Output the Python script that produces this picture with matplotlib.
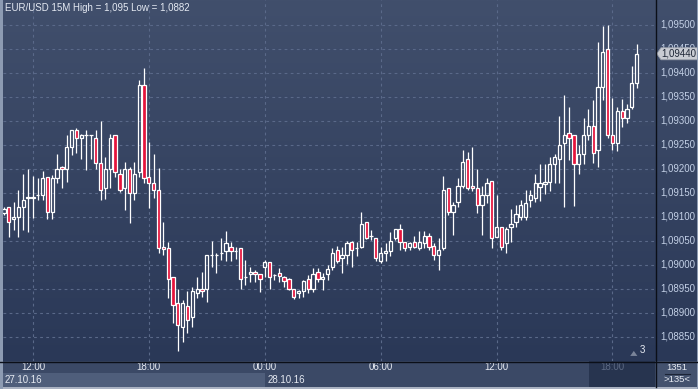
import matplotlib
matplotlib.use("Agg")
import matplotlib.pyplot as plt
import numpy as np
from matplotlib.patches import Rectangle, Polygon
from matplotlib.colors import LinearSegmentedColormap
from matplotlib.transforms import blended_transform_factory as blend

plt.rcParams['font.family'] = ['Liberation Sans', 'DejaVu Sans']

# ---------------- data (EUR/USD, 15-minute candles, from 27.10.16 10:30) ----------------
opens = [1.09108, 1.09121, 1.09096, 1.09100, 1.09121, 1.09140, 1.09140, 1.09146, 1.09146, 1.09183,
         1.09110, 1.09181, 1.09204, 1.09200, 1.09246, 1.09281, 1.09265, 1.09271, 1.09271, 1.09265,
         1.09213, 1.09160, 1.09200, 1.09271, 1.09190, 1.09160, 1.09200, 1.09150, 1.09194, 1.09375,
         1.09183, 1.09171, 1.09156, 1.09038, 1.09035, 1.08975, 1.08921, 1.08871, 1.08915, 1.08892,
         1.08942, 1.08950, 1.08950, 1.09021, 1.09021, 1.09025, 1.09029, 1.09038, 1.09029, 1.09035,
         1.08975, 1.08981, 1.08985, 1.08981, 1.08996, 1.09006, 1.08979, 1.08983, 1.08975, 1.08971,
         1.08950, 1.08942, 1.08946, 1.08971, 1.08950, 1.08985, 1.08971, 1.08981, 1.08996, 1.09031,
         1.09015, 1.09021, 1.09048, 1.09035, 1.09038, 1.09090, 1.09060, 1.09056, 1.09008, 1.09025,
         1.09029, 1.09056, 1.09075, 1.09048, 1.09038, 1.09048, 1.09035, 1.09046, 1.09060, 1.09040,
         1.09021, 1.09035, 1.09160, 1.09110, 1.09131, 1.09165, 1.09221, 1.09165, 1.09160, 1.09125,
         1.09146, 1.09175, 1.09058, 1.09079, 1.09046, 1.09079, 1.09090, 1.09100, 1.09100, 1.09135,
         1.09140, 1.09163, 1.09169, 1.09173, 1.09210, 1.09221, 1.09254, 1.09275, 1.09271, 1.09210,
         1.09231, 1.09271, 1.09290, 1.09240, 1.09371, 1.09450, 1.09271, 1.09254, 1.09321, 1.09306,
         1.09329, 1.09379]
highs = [1.09121, 1.09121, 1.09131, 1.09156, 1.09190, 1.09200, 1.09185, 1.09181, 1.09196, 1.09183,
         1.09188, 1.09231, 1.09206, 1.09271, 1.09281, 1.09285, 1.09273, 1.09281, 1.09271, 1.09281,
         1.09300, 1.09225, 1.09273, 1.09271, 1.09200, 1.09215, 1.09204, 1.09215, 1.09385, 1.09410,
         1.09256, 1.09231, 1.09202, 1.09090, 1.09048, 1.08975, 1.08950, 1.08927, 1.08946, 1.08954,
         1.08975, 1.08985, 1.09021, 1.09050, 1.09025, 1.09056, 1.09071, 1.09048, 1.09038, 1.09035,
         1.09010, 1.08996, 1.08990, 1.08981, 1.09010, 1.09006, 1.08981, 1.08994, 1.08977, 1.08973,
         1.08950, 1.08948, 1.08969, 1.08979, 1.08994, 1.08994, 1.08983, 1.09000, 1.09035, 1.09040,
         1.09038, 1.09050, 1.09050, 1.09048, 1.09110, 1.09090, 1.09073, 1.09056, 1.09038, 1.09046,
         1.09069, 1.09075, 1.09085, 1.09048, 1.09048, 1.09060, 1.09071, 1.09071, 1.09067, 1.09046,
         1.09056, 1.09185, 1.09160, 1.09131, 1.09181, 1.09240, 1.09235, 1.09246, 1.09200, 1.09165,
         1.09181, 1.09175, 1.09146, 1.09079, 1.09079, 1.09117, 1.09125, 1.09135, 1.09156, 1.09156,
         1.09190, 1.09210, 1.09210, 1.09225, 1.09231, 1.09310, 1.09354, 1.09329, 1.09271, 1.09250,
         1.09306, 1.09325, 1.09344, 1.09465, 1.09498, 1.09500, 1.09348, 1.09329, 1.09346, 1.09335,
         1.09415, 1.09460]
lows = [1.09104, 1.09058, 1.09073, 1.09058, 1.09073, 1.09069, 1.09098, 1.09135, 1.09135, 1.09096,
        1.09096, 1.09171, 1.09160, 1.09173, 1.09229, 1.09233, 1.09221, 1.09198, 1.09221, 1.09200,
        1.09135, 1.09138, 1.09160, 1.09183, 1.09152, 1.09115, 1.09088, 1.09135, 1.09183, 1.09171,
        1.09119, 1.09140, 1.09025, 1.09021, 1.08931, 1.08879, 1.08820, 1.08840, 1.08858, 1.08871,
        1.08931, 1.08933, 1.08923, 1.08996, 1.08983, 1.09010, 1.09008, 1.09008, 1.09013, 1.08950,
        1.08958, 1.08965, 1.08965, 1.08944, 1.08975, 1.08950, 1.08969, 1.08965, 1.08954, 1.08948,
        1.08929, 1.08931, 1.08933, 1.08942, 1.08944, 1.08965, 1.08948, 1.08969, 1.08990, 1.09004,
        1.08983, 1.09002, 1.08996, 1.09019, 1.09035, 1.09054, 1.09052, 1.09008, 1.09004, 1.09008,
        1.09019, 1.09052, 1.09031, 1.09029, 1.09031, 1.09035, 1.09031, 1.09035, 1.09031, 1.09010,
        1.08990, 1.09031, 1.09104, 1.09063, 1.09121, 1.09160, 1.09156, 1.09154, 1.09108, 1.09063,
        1.09129, 1.09035, 1.09058, 1.09031, 1.09025, 1.09048, 1.09079, 1.09094, 1.09094, 1.09121,
        1.09131, 1.09133, 1.09148, 1.09154, 1.09171, 1.09171, 1.09121, 1.09219, 1.09123, 1.09190,
        1.09210, 1.09260, 1.09213, 1.09204, 1.09344, 1.09265, 1.09240, 1.09238, 1.09288, 1.09296,
        1.09325, 1.09369]
closes = [1.09117, 1.09090, 1.09100, 1.09121, 1.09135, 1.09141, 1.09141, 1.09146, 1.09181, 1.09110,
          1.09181, 1.09200, 1.09200, 1.09246, 1.09281, 1.09265, 1.09271, 1.09271, 1.09271, 1.09213,
          1.09156, 1.09200, 1.09265, 1.09194, 1.09156, 1.09200, 1.09150, 1.09190, 1.09375, 1.09181,
          1.09171, 1.09156, 1.09035, 1.09033, 1.08971, 1.08917, 1.08875, 1.08921, 1.08885, 1.08946,
          1.08950, 1.08946, 1.09021, 1.09021, 1.09021, 1.09025, 1.09046, 1.09029, 1.09029, 1.08971,
          1.08975, 1.08985, 1.08981, 1.08971, 1.09006, 1.08975, 1.08979, 1.08977, 1.08967, 1.08950,
          1.08933, 1.08946, 1.08967, 1.08950, 1.08981, 1.08971, 1.08975, 1.08992, 1.09025, 1.09008,
          1.09021, 1.09046, 1.09031, 1.09035, 1.09085, 1.09056, 1.09060, 1.09015, 1.09025, 1.09029,
          1.09050, 1.09075, 1.09048, 1.09035, 1.09046, 1.09038, 1.09048, 1.09060, 1.09038, 1.09021,
          1.09031, 1.09156, 1.09110, 1.09125, 1.09165, 1.09215, 1.09160, 1.09160, 1.09125, 1.09146,
          1.09171, 1.09056, 1.09079, 1.09038, 1.09075, 1.09085, 1.09106, 1.09125, 1.09129, 1.09146,
          1.09171, 1.09171, 1.09173, 1.09210, 1.09225, 1.09250, 1.09271, 1.09265, 1.09210, 1.09231,
          1.09271, 1.09290, 1.09233, 1.09371, 1.09444, 1.09271, 1.09254, 1.09321, 1.09306, 1.09325,
          1.09379, 1.09440]

price_ticks = [1.09500, 1.09450, 1.09400, 1.09350, 1.09300, 1.09250, 1.09200,
               1.09150, 1.09100, 1.09050, 1.09000, 1.08950, 1.08900, 1.08850]
start_hour = 10.5                       # first candle: 27.10.16 10:30
time_label_hours = [12, 18, 24, 30, 36, 42]
time_labels = ["12:00", "18:00", "00:00", "06:00", "12:00", "18:00"]
date_labels = ["27.10.16", "28.10.16"]
date_start_hours = [None, 24]
title = "EUR/USD 15M High = 1,095 Low = 1,0882"
last_price = 1.09440
bar_count_text = ["1351", ">135<"]

# ---------------- layout ----------------
W, H = 698, 389
fig = plt.figure(figsize=(W / 100, H / 100), dpi=100)
fig.patch.set_facecolor('#33415e')

def pax(x0, y0, x1, y1):
    a = fig.add_axes([x0 / W, 1 - y1 / H, (x1 - x0) / W, (y1 - y0) / H])
    a.set_axis_off()
    return a

grad_cmap = LinearSegmentedColormap.from_list('bg', ['#2a3857', '#414f6c'])
grad = np.linspace(0, 1, 256).reshape(-1, 1)

YLIM = (1.08800, 1.09552)
XLIM = (-0.2, 134.8)
idx = lambda h: (h - start_hour) * 4
FS = 7.0

# main chart
ax = pax(3, 0, 655, 361)
ax.set_xlim(*XLIM)
ax.set_ylim(*YLIM)
ax.imshow(grad, extent=[XLIM[0], XLIM[1], YLIM[0], YLIM[1]], aspect='auto',
          cmap=grad_cmap, origin='lower', zorder=0)
grid_kw = dict(color='#5a6989', lw=0.8, ls=(0, (2.5, 3)), zorder=1)
for p in price_ticks:
    ax.axhline(p, **grid_kw)
for h in time_label_hours:
    ax.axvline(idx(h), **grid_kw)

red = '#e5143c'
bw = 0.68
for i, (o, hi, lo, c) in enumerate(zip(opens, highs, lows, closes)):
    top, bot = max(o, c), min(o, c)
    ax.vlines(i, top, hi, color='white', lw=0.9, zorder=3)
    ax.vlines(i, lo, bot, color='white', lw=0.9, zorder=3)
    fc = red if c < o else 'none'
    ax.add_patch(Rectangle((i - bw / 2, bot), bw, top - bot, facecolor=fc,
                           edgecolor='white', lw=0.9, zorder=4))

ax.text(0.0025, 0.978, title, transform=ax.transAxes, fontsize=FS,
        color='#e4e9f2', va='center', ha='left', zorder=6)
ax.text(0.985, 0.017, "3", transform=ax.transAxes, fontsize=FS,
        color='#e8ecf4', va='bottom', ha='right', zorder=6)
ax.add_patch(Polygon([[0.962, 0.014], [0.973, 0.014], [0.9675, 0.028]], closed=True,
                     transform=ax.transAxes, facecolor='#7a8499', edgecolor='none', zorder=6))

# right price axis
axr = pax(655, 0, 698, 361)
axr.set_xlim(0, 1)
axr.set_ylim(*YLIM)
axr.imshow(grad, extent=[0, 1, YLIM[0], YLIM[1]], aspect='auto', cmap=grad_cmap,
           origin='lower', zorder=0)
for p in price_ticks:
    axr.text(0.13, p, f"{p:.5f}".replace('.', ','), fontsize=FS, color='#c3d0e6',
             va='center', ha='left', zorder=2)
# current price tag (partly covers the 1,09450 label, as in the original)
dy = (YLIM[1] - YLIM[0]) / 361 * 6
tag = Polygon([[0.04, last_price], [0.14, last_price + dy], [1.0, last_price + dy],
               [1.0, last_price - dy], [0.14, last_price - dy]], closed=True,
              facecolor='#c9ccd3', edgecolor='#9aa0ab', lw=0.6, zorder=3)
axr.add_patch(tag)
axr.text(0.15, last_price, f"{last_price:.5f}".replace('.', ','), fontsize=FS,
         color='#1e2636', va='center', ha='left', zorder=4)

# bottom time axis
axb = pax(0, 361, 698, 389)
axb.set_xlim(0, 698)
axb.set_ylim(389, 361)
axb.add_patch(Rectangle((0, 361), 698, 28, facecolor='#3b4966', edgecolor='none', zorder=0))
bt = blend(ax.transData, axb.transData)
axb.add_patch(Rectangle((XLIM[0], 373), idx(24) - XLIM[0], 14, transform=bt,
                        facecolor='#4f5e7b', edgecolor='none', zorder=1))
axb.add_patch(Rectangle((121.2, 361), XLIM[1] - 121.2, 26, transform=bt,
                        facecolor='#27344f', edgecolor='none', zorder=1))
for k, (h, lab) in enumerate(zip(time_label_hours, time_labels)):
    col = '#5d6a84' if k == len(time_labels) - 1 else '#e6eaf2'
    axb.text(idx(h), 367.5, lab, transform=bt, fontsize=FS, color=col,
             ha='center', va='center', zorder=3)
axb.text(XLIM[0] + 0.3, 380, date_labels[0], transform=bt, fontsize=FS,
         color='#e6eaf2', ha='left', va='center', zorder=3)
axb.text(idx(date_start_hours[1]) + 0.6, 380, date_labels[1], transform=bt,
         fontsize=FS, color='#e6eaf2', ha='left', va='center', zorder=3)
# corner box
axb.add_patch(Rectangle((655, 361), 43, 27, facecolor='#44526e', edgecolor='none', zorder=2))
axb.text(677, 367.5, bar_count_text[0], fontsize=6.8, color='#e6eaf2', ha='center', va='center', zorder=3)
axb.plot([665, 690], [373.5, 373.5], color='#1c2436', lw=0.8, zorder=3)
axb.text(677, 380, bar_count_text[1], fontsize=6.8, color='#e6eaf2', ha='center', va='center', zorder=3)
axb.add_patch(Rectangle((0, 387), 698, 2, facecolor='#aab2c2', edgecolor='none', zorder=4))

# separators / borders
ov = pax(0, 0, 698, 389)
ov.set_xlim(0, 698)
ov.set_ylim(389, 0)
ov.patch.set_alpha(0)
ov.plot([655.5, 655.5], [0, 387], color='#0b0f18', lw=1.0)
ov.plot([0, 698], [361.5, 361.5], color='#0b0f18', lw=1.0)
ov.add_patch(Rectangle((0, 0), 2.5, 389, facecolor='#8d9bb2', edgecolor='none'))
ov.add_patch(Rectangle((696.5, 0), 1.5, 389, facecolor='#8d9bb2', edgecolor='none'))

fig.savefig('out.png', dpi=100)
